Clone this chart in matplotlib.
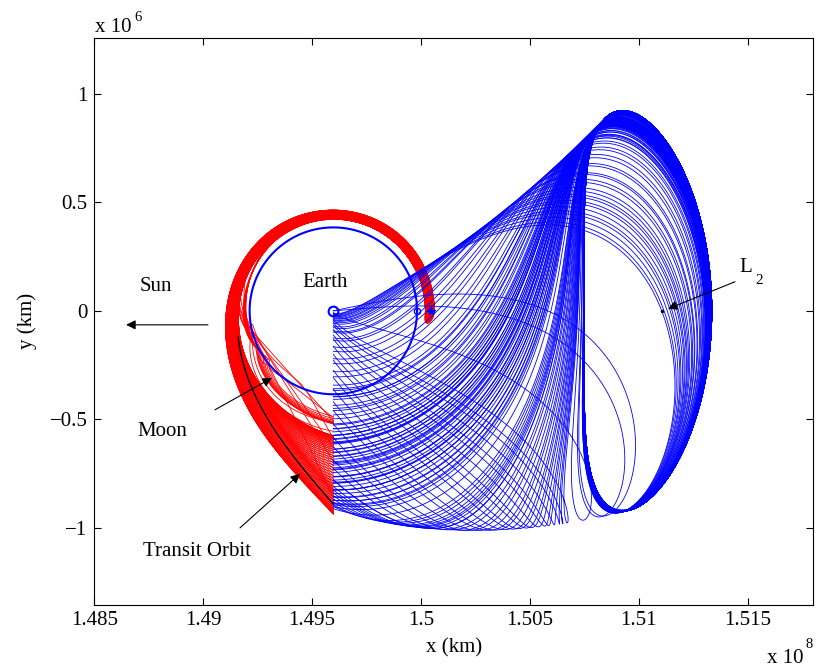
import numpy as np
import matplotlib.pyplot as plt

plt.rcParams['font.family'] = ['Liberation Serif', 'DejaVu Serif']
plt.rcParams['font.size'] = 15

# ---- model constants ---------------------------------------------------
AU_KM = 1.49598e8           # Sun-Earth distance
LUNAR_KM = 384400.0         # Earth-Moon distance
MU_SE = 3.0404e-6           # Sun / Earth+Moon mass parameter
MU_EM = 0.0121506           # Earth / Moon mass parameter
SE_RATE_EM = 27.3217 / 365.2422   # Sun-Earth frame rate in Earth-Moon time units

# Lyapunov orbits: x-axis crossing on the side of the smaller primary
SE_ORBIT_X0_KM = 1.5075e8
EM_ORBIT_R0_KM = 423700.0   # measured from Earth

MOON_ANGLE0 = 0.0           # Moon angle when the lunar branch starts
SE_OFFSET_KM = 200.0        # manifold displacement off the orbit
EM_OFFSET_KM = 45.0
N_SE_FINE = 600             # trial trajectories on the Sun-Earth orbit
N_SE = 210                  # drawn, evenly spaced along the section cut
N_EM = 100
FLYBY_KM = 80000.0          # arcs swinging past Earth before the cut are dropped

# ---- axes and annotations ------------------------------------------------
X_LIM = [1.485e8, 1.518e8]
Y_LIM = [-1.353e6, 1.257e6]
X_TICKS = [1.485e8, 1.49e8, 1.495e8, 1.5e8, 1.505e8, 1.51e8, 1.515e8]
X_TICK_LABELS = ['1.485', '1.49', '1.495', '1.5', '1.505', '1.51', '1.515']
Y_TICKS = [-1e6, -0.5e6, 0, 0.5e6, 1e6]
Y_TICK_LABELS = ['\u22121', '\u22120.5', '0', '0.5', '1']

LABELS = ['Sun', 'Earth', 'Moon', 'Transit Orbit']
LABEL_XY = [(1.48783e8, 1.11e5), (1.49559e8, 1.29e5),
            (1.48811e8, -5.58e5), (1.48972e8, -1.11e6)]
ARROW_TAIL = [(1.49022e8, -6.45e4), (1.49054e8, -4.56e5),
              (1.49169e8, -1.0e6), (1.51442e8, 1.34e5)]
ARROW_HEAD = [(1.48646e8, -6.45e4), (1.49316e8, -3.09e5),
              (1.49445e8, -7.51e5), (1.51134e8, 9.2e3)]
TRANSIT_END_Y = -0.89e6
SECTION_Y_MIN = -0.97e6     # lowest crossing kept for the lunar arcs


# ---- planar CR3BP ------------------------------------------------------
def accel(s, mu):
    x, y, vx, vy = s
    d1 = x + mu
    d2 = x - 1.0 + mu
    r1 = (d1 * d1 + y * y) ** -1.5
    r2 = (d2 * d2 + y * y) ** -1.5
    ax = 2.0 * vy + x - (1.0 - mu) * d1 * r1 - mu * d2 * r2
    ay = -2.0 * vx + y - (1.0 - mu) * y * r1 - mu * y * r2
    return np.array([vx, vy, ax, ay])


def rk4(s, h, mu):
    k1 = accel(s, mu)
    k2 = accel(s + 0.5 * h * k1, mu)
    k3 = accel(s + 0.5 * h * k2, mu)
    k4 = accel(s + h * k3, mu)
    return s + h / 6.0 * (k1 + 2 * k2 + 2 * k3 + k4)


def l2_point(mu):
    x = 1.0 - mu + (mu / 3.0) ** (1 / 3)
    for _ in range(50):
        f = x - (1 - mu) / (x + mu) ** 2 - mu / (x - 1 + mu) ** 2
        fp = 1 + 2 * (1 - mu) / (x + mu) ** 3 + 2 * mu / (x - 1 + mu) ** 3
        x -= f / fp
    return x


def y_crossing(s0, mu, h, t_min):
    s = s0.copy()
    n = s.shape[1]
    done = np.zeros(n, bool)
    out = np.zeros_like(s)
    tout = np.zeros(n)
    t = 0.0
    while not done.all() and t < 12:
        s_new = rk4(s, h, mu)
        hit = (~done) & (t + h > t_min) & (s[1] * s_new[1] <= 0)
        if hit.any():
            sp = s[:, hit]
            hh = h * sp[1] / (sp[1] - s_new[1, hit])
            for _ in range(4):
                st = rk4(sp, hh, mu)
                hh = hh - st[1] / st[3]
            out[:, hit] = rk4(sp, hh, mu)
            tout[hit] = t + hh
            done |= hit
        s = s_new
        t += h
    return out, tout


def lyapunov(mu, x_target, n_cont, h):
    xl = l2_point(mu)
    g = xl - 1 + mu
    c2 = (mu + (1 - mu) * g ** 3 / (1 + g) ** 3) / g ** 3
    lam2 = (2 - c2 + np.sqrt(9 * c2 ** 2 - 8 * c2)) / 2
    x_steps = xl + (x_target - xl) * np.arange(1, n_cont + 1) / n_cont
    vys = []
    for k, x0 in enumerate(x_steps):
        if k == 0:
            vy = (lam2 + 1 + 2 * c2) * (xl - x0) / 2
        elif k == 1:
            vy = 2 * vys[0]
        else:
            vy = 2 * vys[-1] - vys[-2]
        for _ in range(15):
            s0 = np.array([[x0, x0], [0.0, 0.0], [0.0, 0.0], [vy, vy + 1e-8]])
            st, _ = y_crossing(s0, mu, h, 0.5)
            dv = st[2, 0] / ((st[2, 1] - st[2, 0]) / 1e-8)
            vy -= dv
            if abs(dv) < 1e-11:
                break
        vys.append(vy)
    _, th = y_crossing(np.array([[x0], [0.0], [0.0], [vy]]), mu, h, 0.5)
    return x0, vy, 2 * th[0]


def orbit_with_stm(x0, vy0, period, mu, h):
    n = int(np.ceil(period / h))
    h = period / n
    d = 1e-8
    s = np.zeros((4, 5))
    s[0] = x0
    s[3] = vy0
    for i in range(4):
        s[i, i + 1] += d
    out = np.empty((n + 1, 4, 5))
    out[0] = s
    for k in range(n):
        s = rk4(s, h, mu)
        out[k + 1] = s
    base = out[:, :, 0]
    stm = (out[:, :, 1:] - base[:, :, None]) / d
    return base, stm


def manifold_starts(base, stm, vec, n_pts, offset):
    idx = np.linspace(0, len(base) - 1, n_pts, endpoint=False).astype(int)
    pts = base[idx].T
    dirs = np.einsum('kij,j->ik', stm[idx], vec)
    dirs /= np.hypot(dirs[0], dirs[1])
    return np.hstack([pts + offset * dirs, pts - offset * dirs])


def se_branch(s0, mu, h, t_max, x_cut):
    """Backward flow until x = x_cut; step shrinks near Earth."""
    s = s0.copy()
    n = s.shape[1]
    t = np.zeros(n)
    alive = np.ones(n, bool)
    hit = np.zeros(n, bool)
    path = [s[:2].copy()]
    k = 0
    while alive.any() and k < 40000:
        r2 = np.hypot(s[0] - 1 + mu, s[1])
        hh = -h * np.clip((r2 / 0.004) ** 1.5, 1e-4, 1.0)
        s_new = rk4(s, hh, mu)
        cross = alive & (s_new[0] <= x_cut)
        if cross.any():
            f = (s[0] - x_cut) / (s[0] - s_new[0])
            s_new[:, cross] = (s + f * (s_new - s))[:, cross]
        t = np.where(alive, t + hh, t)
        s = np.where(alive, s_new, s)
        hit |= cross
        alive &= ~cross & (t > -t_max)
        path.append(s[:2].copy())
        k += 1
    return np.array(path), hit, s


def em_branch(s0, mu, h, t_max, theta0, omega):
    """Forward flow, mapped into the Sun-Earth frame (km from Earth)."""
    def to_se(st, t):
        th = theta0 + omega * t
        xr = (st[0] + mu) * LUNAR_KM
        yr = st[1] * LUNAR_KM
        return np.array([np.cos(th) * xr - np.sin(th) * yr,
                         np.sin(th) * xr + np.cos(th) * yr])

    s = s0.copy()
    n = s.shape[1]
    alive = np.ones(n, bool)
    hit = np.zeros(n, bool)
    t = 0.0
    P = to_se(s, t)
    path = [P.copy()]
    while alive.any() and t < t_max:
        s_new = rk4(s, h, mu)
        P_new = to_se(s_new, t + h)
        cross = alive & (P[0] < 0) & (P_new[0] >= 0) & (P_new[1] < 0)
        if cross.any():
            f = -P[0] / (P_new[0] - P[0])
            P_new[:, cross] = (P + f * (P_new - P))[:, cross]
        s = np.where(alive, s_new, s)
        P = np.where(alive, P_new, P)
        hit |= cross
        alive &= ~cross
        t += h
        path.append(P.copy())
    return np.array(path), hit


def swings_past_earth(path_xy, mu, close):
    """True where an arc comes near Earth and then moves away again."""
    d = np.hypot(path_xy[:, 0] - 1 + mu, path_xy[:, 1])
    near = d < close
    first = np.where(near.any(axis=0), near.argmax(axis=0), -1)
    out = np.zeros(path_xy.shape[2], bool)
    for i in np.nonzero(first >= 0)[0]:
        out[i] = d[first[i]:, i].max() > 2 * close
    return out


np.seterr(all='ignore')

# Sun-Earth L2 orbit and its stable manifold, cut at Earth's x
x0, vy0, T = lyapunov(MU_SE, SE_ORBIT_X0_KM / AU_KM, 12, 5e-3)
base, stm = orbit_with_stm(x0, vy0, T, MU_SE, 2e-3)
w, V = np.linalg.eig(stm[-1])
v_stable = V[:, np.argmin(np.abs(w))].real
se_start = manifold_starts(base, stm, v_stable, N_SE_FINE, SE_OFFSET_KM / AU_KM)
x_cut = 1 - MU_SE
se_path, se_hit, se_end = se_branch(se_start, MU_SE, 2e-3, 9.0, x_cut)
flyby = swings_past_earth(se_path, MU_SE, FLYBY_KM / AU_KM)
se_keep = np.nonzero(se_hit & ~flyby & (np.abs(se_end[1]) < 0.02))[0]

# pick trajectories evenly spaced along the cut in the (y, vy) plane
cut_y = se_end[1, se_keep]
cut_v = se_end[3, se_keep]
lo, hi = np.percentile(cut_v, [5, 95])
cut_v = np.clip(cut_v, lo, hi)
arc = np.hypot(np.diff(cut_y) / np.ptp(cut_y), np.diff(cut_v) / (hi - lo))
arc = np.concatenate([[0.0], np.cumsum(arc)])
pick = np.searchsorted(arc, np.linspace(0, arc[-1], N_SE)).clip(0, len(arc) - 1)
chosen = se_keep[np.unique(pick)]

se_flip = -1.0 if np.median(cut_y) > 0 else 1.0
blue_x = se_path[:, 0, chosen] * AU_KM
blue_y = se_path[:, 1, chosen] * AU_KM * se_flip

earth_x = (1 - MU_SE) * AU_KM
se_l2_x = l2_point(MU_SE) * AU_KM

# Earth-Moon L2 orbit and its unstable manifold in the Sun-Earth frame
x0e, vy0e, Te = lyapunov(MU_EM, EM_ORBIT_R0_KM / LUNAR_KM - MU_EM, 12, 5e-3)
base_e, stm_e = orbit_with_stm(x0e, vy0e, Te, MU_EM, 2e-3)
w, V = np.linalg.eig(stm_e[-1])
v_unstable = V[:, np.argmax(np.abs(w))].real
em_start = manifold_starts(base_e, stm_e, v_unstable, N_EM, EM_OFFSET_KM / LUNAR_KM)
em_path, em_hit = em_branch(em_start, MU_EM, 2e-3, 14.0, MOON_ANGLE0, 1 - SE_RATE_EM)
em_end_y = em_path[-1, 1]
em_keep = em_hit & (em_end_y < -4.8e5) & (em_end_y > SECTION_Y_MIN)
red_x = earth_x + em_path[:, 0, em_keep]
red_y = em_path[:, 1, em_keep]
em_l2_r = (l2_point(MU_EM) + MU_EM) * LUNAR_KM

# ---- figure -------------------------------------------------------------
fig = plt.figure(figsize=(8.17, 6.71), dpi=100)
ax = fig.add_axes([94.3 / 817, 1 - 604.5 / 671, 718.7 / 817, 566.5 / 671])

ax.plot(red_x, red_y, color='r', lw=0.6, zorder=1)

# transit orbit: one of the red arcs, highlighted on its way down
if red_y.shape[1] > 0:
    j = np.argmin(np.abs(red_y[-1] - TRANSIT_END_Y))
    seg = (red_x[:, j] < earth_x) & (red_y[:, j] < -1.2e5)
    ax.plot(red_x[seg, j], red_y[seg, j], color='k', lw=1.0, zorder=2)

ax.plot(blue_x, blue_y, color='b', lw=0.6, zorder=3)

ang = np.linspace(0, 2 * np.pi, 400)
ax.plot(earth_x + LUNAR_KM * np.cos(ang), LUNAR_KM * np.sin(ang),
        color='b', lw=1.5, zorder=4)
ax.plot([earth_x], [0], 'o', ms=7, mfc='none', mec='b', mew=1.5, zorder=5)
ax.plot([earth_x + LUNAR_KM * np.cos(MOON_ANGLE0)], [LUNAR_KM * np.sin(MOON_ANGLE0)],
        'o', ms=4.5, mfc='none', mec='b', mew=1.0, zorder=5)
ax.plot([earth_x + em_l2_r], [0], '*', ms=6, color='b', zorder=5)
ax.plot([se_l2_x], [0], '.', ms=3, color='k', zorder=5)

for txt, xy in zip(LABELS, LABEL_XY):
    ax.text(xy[0], xy[1], txt, ha='center', va='center')
ax.text(1.51493e8, 1.98e5, 'L', ha='center', va='center')
ax.text(1.51552e8, 1.38e5, '2', ha='center', va='center', fontsize=11)
for tail, head in zip(ARROW_TAIL, ARROW_HEAD):
    ax.annotate('', xy=head, xytext=tail,
                arrowprops=dict(arrowstyle='-|>', color='k', lw=0.8,
                                mutation_scale=14, shrinkA=0, shrinkB=0))

ax.set_xlim(X_LIM)
ax.set_ylim(Y_LIM)
ax.set_xticks(X_TICKS)
ax.set_xticklabels(X_TICK_LABELS)
ax.set_yticks(Y_TICKS)
ax.set_yticklabels(Y_TICK_LABELS)
ax.tick_params(direction='in', length=5, width=0.8, pad=5,
               top=True, right=True, labelsize=15)
for sp in ax.spines.values():
    sp.set_linewidth(0.8)

fig.text(453.6 / 817, 1 - 648 / 671, 'x (km)', ha='center', va='center')
fig.text(27 / 817, 1 - 321 / 671, 'y (km)', rotation=90, ha='center', va='center')
fig.text(95 / 817, 1 - 31.7 / 671, 'x 10', ha='left', va='baseline')
fig.text(134 / 817, 1 - 20.7 / 671, '6', ha='left', va='baseline', fontsize=10.5)
fig.text(767 / 817, 1 - 663 / 671, 'x 10', ha='left', va='baseline')
fig.text(805 / 817, 1 - 648 / 671, '8', ha='left', va='baseline', fontsize=10.5)

fig.savefig('out.png', dpi=100)
